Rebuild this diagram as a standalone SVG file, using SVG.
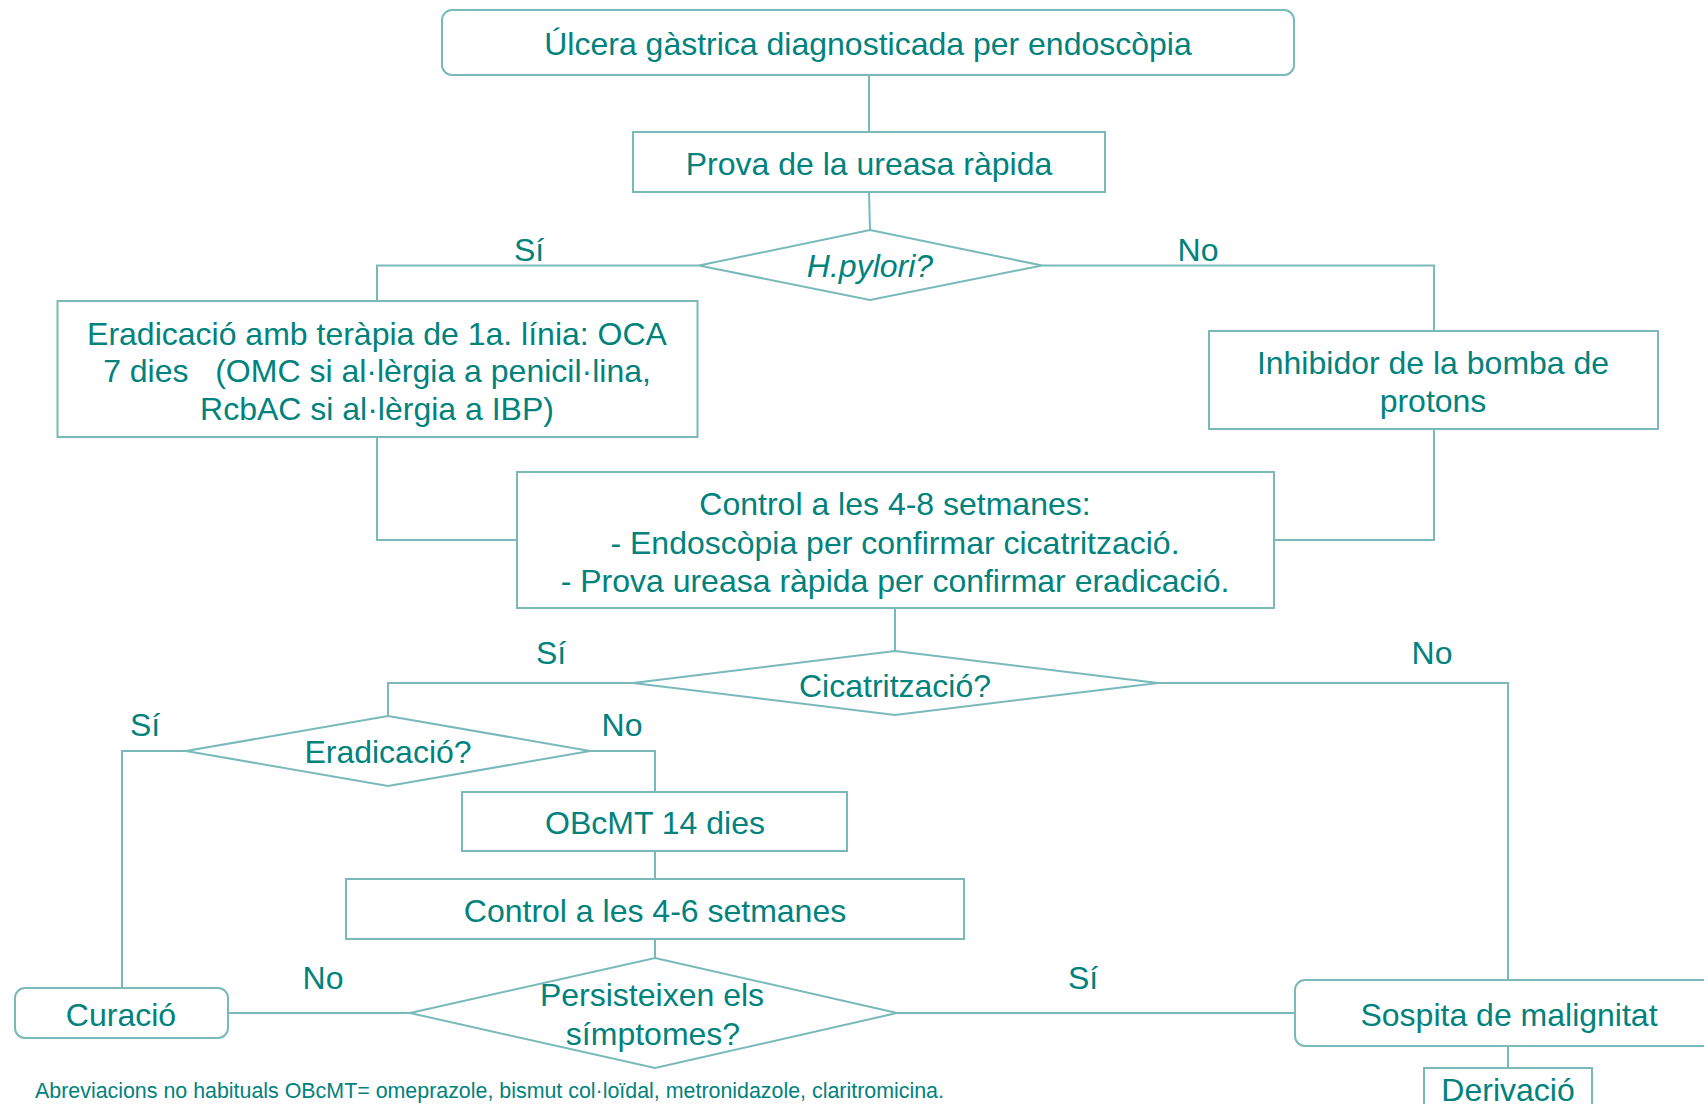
<svg xmlns="http://www.w3.org/2000/svg" width="1704" height="1104" viewBox="0 0 1704 1104">
<style>
.box{fill:#fff;stroke:#7ab9b9;stroke-width:2}
.conn{fill:none;stroke:#7ab9b9;stroke-width:2}
text{font-family:"Liberation Sans",Arial,sans-serif;font-size:32px;fill:#00827d;text-anchor:middle}
.it{font-style:italic}
.note{font-size:21.4px;text-anchor:start}
</style>
<rect width="1704" height="1104" fill="#fff"/>
<g id="connectors">
<path class="conn" d="M869,75V132"/>
<path class="conn" d="M869,192L870,230"/>
<path class="conn" d="M699,265.5H377V301"/>
<path class="conn" d="M1042,265.5H1434V331"/>
<path class="conn" d="M377,437V540H517"/>
<path class="conn" d="M1434,429V540H1274"/>
<path class="conn" d="M895,608V651"/>
<path class="conn" d="M633,683H388V716"/>
<path class="conn" d="M1158,683H1508V980"/>
<path class="conn" d="M186,751H122V988"/>
<path class="conn" d="M590,751H655V792"/>
<path class="conn" d="M655,851V879"/>
<path class="conn" d="M655,939V958"/>
<path class="conn" d="M228,1013H410"/>
<path class="conn" d="M897,1013H1295"/>
<path class="conn" d="M1508,1046V1068"/>
<text x="529" y="261">Sí</text>
<text x="1198" y="261">No</text>
<text x="551" y="664">Sí</text>
<text x="1432" y="664">No</text>
<text x="145" y="736">Sí</text>
<text x="622" y="736">No</text>
<text x="323" y="989">No</text>
<text x="1083" y="989">Sí</text>
</g>
<g id="n1"><rect class="box" x="442" y="10" width="852" height="65" rx="10"/><text x="868" y="54.5">Úlcera gàstrica diagnosticada per endoscòpia</text></g>
<g id="n2"><rect class="box" x="633" y="132" width="472" height="60"/><text x="869" y="174.5">Prova de la ureasa ràpida</text></g>
<g id="d1"><polygon class="box" points="870,230 1042,265.5 870,300 699,265.5"/><text class="it" x="870" y="277">H.pylori?</text></g>
<g id="n3"><rect class="box" x="57.5" y="301" width="640" height="136"/>
<text x="377" y="344.5">Eradicació amb teràpia de 1a. línia: OCA</text>
<text x="377" y="381.5" xml:space="preserve">7 dies   (OMC si al·lèrgia a penicil·lina,</text>
<text x="377" y="419.5">RcbAC si al·lèrgia a IBP)</text></g>
<g id="n4"><rect class="box" x="1209" y="331" width="449" height="98"/>
<text x="1433" y="373.5">Inhibidor de la bomba de</text>
<text x="1433" y="411.5">protons</text></g>
<g id="n5"><rect class="box" x="517" y="472" width="757" height="136"/>
<text x="895" y="514.5">Control a les 4-8 setmanes:</text>
<text x="895" y="553.5">- Endoscòpia per confirmar cicatrització.</text>
<text x="895" y="591.5">- Prova ureasa ràpida per confirmar eradicació.</text></g>
<g id="d2"><polygon class="box" points="895,651 1158,683 895,715 633,683"/><text x="895" y="696.5">Cicatrització?</text></g>
<g id="d3"><polygon class="box" points="388,716 590,751 388,786 186,751"/><text x="388" y="763">Eradicació?</text></g>
<g id="n6"><rect class="box" x="462" y="792" width="385" height="59"/><text x="655" y="833.5">OBcMT 14 dies</text></g>
<g id="n7"><rect class="box" x="346" y="879" width="618" height="60"/><text x="655" y="921.5">Control a les 4-6 setmanes</text></g>
<g id="d4"><polygon class="box" points="655,958 897,1013 655,1068 410,1013"/>
<text x="652" y="1006">Persisteixen els</text>
<text x="653" y="1045">símptomes?</text></g>
<g id="n8"><rect class="box" x="15" y="988" width="213" height="50" rx="10"/><text x="121" y="1026">Curació</text></g>
<g id="n9"><rect class="box" x="1295" y="980" width="428" height="66" rx="10"/><text x="1509" y="1026">Sospita de malignitat</text></g>
<g id="n10"><rect class="box" x="1424" y="1068" width="168" height="60"/><text x="1508" y="1101">Derivació</text></g>
<text class="note" x="35" y="1098">Abreviacions no habituals OBcMT= omeprazole, bismut col·loïdal, metronidazole, claritromicina.</text>
</svg>
